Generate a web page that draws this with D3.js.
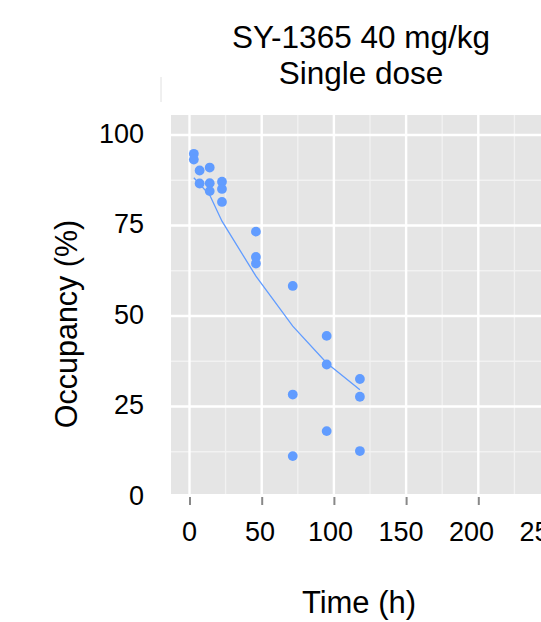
<!DOCTYPE html>
<html>
<head>
<meta charset="utf-8">
<script src="https://cdn.jsdelivr.net/npm/d3@7"></script>
<style>
  body { margin: 0; background: #fff; }
  #canvas { width: 541px; height: 622px; }
  text { font-family: "Liberation Sans", Arial, sans-serif; fill: #000; }
</style>
</head>
<body>
<div id="canvas"></div>
<script>
// //data
var times     = [3, 3, 7, 14, 7, 14, 22.5, 14, 22.5, 22.5, 46, 46, 46, 71.5, 71.5, 71.5, 95, 95, 95, 118, 118, 118];
var occupancy = [94.8, 93.2, 90.2, 91, 86.6, 86.7, 87.1, 84.5, 85.1, 81.5, 73.3, 66.3, 64.5, 58.3, 28.3, 11.3, 44.5, 36.6, 18.2, 32.6, 27.7, 12.7];

// //fitted curve, as drawn
var fitTimes     = [3, 14, 22.5, 46, 71.5, 95, 118];
var fitOccupancy = [88.2, 83.4, 76.2, 61, 47.2, 37, 29.6];

var xTicks = [0, 50, 100, 150, 200, 250];
var xMinor = [25, 75, 125, 175, 225];
var yTicks = [0, 25, 50, 75, 100];
var yMinor = [12.5, 37.5, 62.5, 87.5];

var titleLines = ["SY-1365 40 mg/kg", "Single dose"];

window.app = {}

window.app.RenderChart = function () {

  var W = 541, H = 622;
  var panel = {left: 171, top: 115, right: 545, bottom: 494};
  var blue = "#619CFF";

  var svg = d3.select("#canvas").append("svg")
      .attr("width", W)
      .attr("height", H);

  var x = d3.scaleLinear().domain([0, 200]).range([189.5, 478.3]);
  var y = d3.scaleLinear().domain([0, 100]).range([497, 135]);
  // tick labels sit on a slightly tighter spacing than the grid
  var xLab = d3.scaleLinear().domain([0, 250]).range([189, 541.5]);

  svg.append("defs").append("clipPath").attr("id", "clip")
    .append("rect")
      .attr("x", panel.left).attr("y", panel.top)
      .attr("width", panel.right - panel.left)
      .attr("height", panel.bottom - panel.top);

  svg.append("rect")
      .attr("x", panel.left).attr("y", panel.top)
      .attr("width", panel.right - panel.left)
      .attr("height", panel.bottom - panel.top)
      .attr("fill", "#e5e5e5");

  var grid = svg.append("g").attr("clip-path", "url(#clip)");

  grid.selectAll(".vminor").data(xMinor).enter().append("line")
      .attr("x1", function (d) { return x(d); }).attr("x2", function (d) { return x(d); })
      .attr("y1", panel.top).attr("y2", panel.bottom)
      .attr("stroke", "#f2f2f2").attr("stroke-width", 1.3);

  grid.selectAll(".hminor").data(yMinor).enter().append("line")
      .attr("y1", function (d) { return y(d); }).attr("y2", function (d) { return y(d); })
      .attr("x1", panel.left).attr("x2", panel.right)
      .attr("stroke", "#f2f2f2").attr("stroke-width", 1.3);

  grid.selectAll(".vmajor").data(xTicks).enter().append("line")
      .attr("x1", function (d) { return x(d); }).attr("x2", function (d) { return x(d); })
      .attr("y1", panel.top).attr("y2", panel.bottom)
      .attr("stroke", "#fff").attr("stroke-width", 2.4);

  grid.selectAll(".hmajor").data(yTicks).enter().append("line")
      .attr("y1", function (d) { return y(d); }).attr("y2", function (d) { return y(d); })
      .attr("x1", panel.left).attr("x2", panel.right)
      .attr("stroke", "#fff").attr("stroke-width", 2.4);

  // //x ticks (marks only)
  var xAxisTicks = svg.append("g")
      .attr("transform", "translate(0," + 497 + ")")
      .call(d3.axisBottom(x).tickValues(xTicks).tickSize(8).tickFormat(""));
  xAxisTicks.select(".domain").remove();
  xAxisTicks.selectAll("line").attr("stroke", "#888").attr("stroke-width", 2);

  // //x tick labels
  var xAxisLabels = svg.append("g")
      .attr("transform", "translate(0," + 522 + ")")
      .call(d3.axisBottom(xLab).tickValues(xTicks).tickSize(0).tickPadding(0));
  xAxisLabels.select(".domain").remove();
  xAxisLabels.selectAll("text")
      .attr("font-size", 27).attr("dy", "0.72em")
      .style("font-family", "'Liberation Sans', Arial, sans-serif").attr("fill", "#000");

  // //y tick labels
  var yAxis = svg.append("g")
      .attr("transform", "translate(" + 144 + ",0)")
      .call(d3.axisLeft(y).tickValues(yTicks).tickSize(0).tickPadding(0));
  yAxis.select(".domain").remove();
  yAxis.selectAll("text")
      .attr("font-size", 27).attr("dy", "0.27em")
      .style("font-family", "'Liberation Sans', Arial, sans-serif").attr("fill", "#000");

  // //fit line
  var pts = fitTimes.map(function (t, i) { return [t, fitOccupancy[i]]; });
  grid.append("path")
      .datum(pts)
      .attr("d", d3.line().x(function (d) { return x(d[0]); }).y(function (d) { return y(d[1]); }))
      .attr("fill", "none")
      .attr("stroke", blue)
      .attr("stroke-width", 1.3);

  // //points
  grid.selectAll(".dot").data(times).enter().append("circle")
      .attr("cx", function (d) { return x(d); })
      .attr("cy", function (d, i) { return y(occupancy[i]); })
      .attr("r", 4.9)
      .attr("fill", blue);

  // //titles
  svg.selectAll(".title").data(titleLines).enter().append("text")
      .attr("x", 361)
      .attr("y", function (d, i) { return 48 + i * 36; })
      .attr("text-anchor", "middle")
      .attr("font-size", 31.5)
      .text(function (d) { return d; });

  svg.append("text")
      .attr("x", 359).attr("y", 613)
      .attr("text-anchor", "middle")
      .attr("font-size", 31)
      .text("Time (h)");

  svg.append("text")
      .attr("transform", "translate(77,324) rotate(-90)")
      .attr("text-anchor", "middle")
      .attr("font-size", 30.5)
      .text("Occupancy (%)");

  // faint edge left over from the original figure
  svg.append("line")
      .attr("x1", 161).attr("x2", 161).attr("y1", 77).attr("y2", 102)
      .attr("stroke", "#e0e0e0").attr("stroke-width", 1);
}

window.app.RenderChart();
</script>
</body>
</html>
